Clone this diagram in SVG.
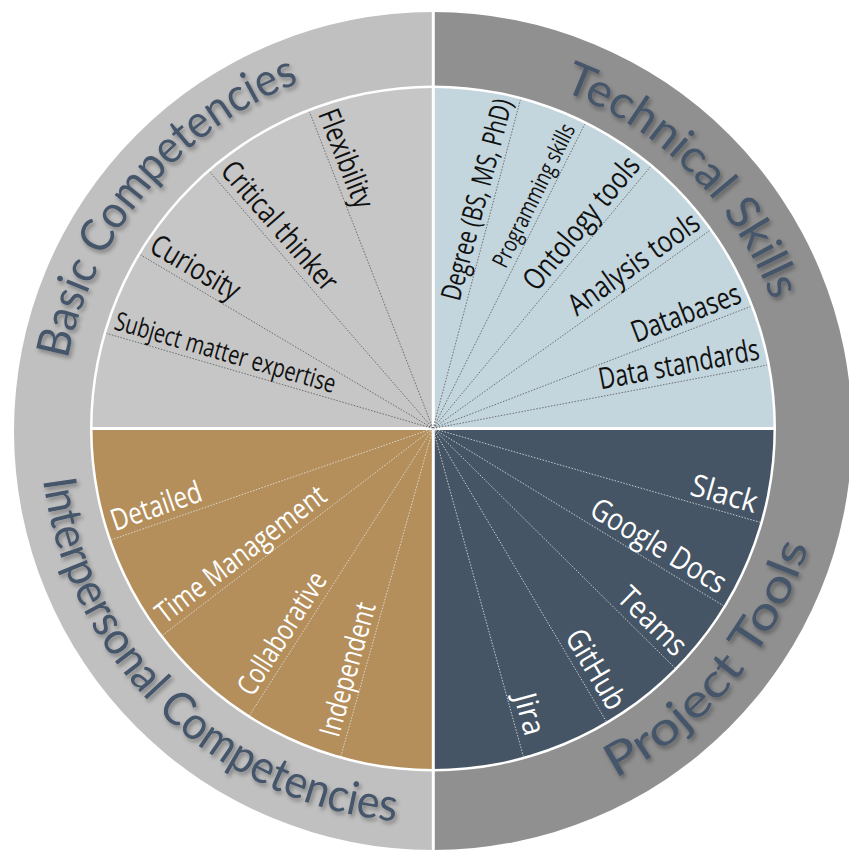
<svg xmlns="http://www.w3.org/2000/svg" width="849" height="850" viewBox="0 0 849 850">
<defs>
<filter id="sh" x="-10%" y="-10%" width="120%" height="120%">
<feDropShadow dx="2" dy="3" stdDeviation="2" flood-color="#000" flood-opacity="0.35"/>
</filter>
<path id="pBasic" d="M61,430 A372,372 0 0 1 433,58"/>
<path id="pTech" d="M433,67 A363,363 0 0 1 796,430"/>
<path id="pInter" d="M40,430 A393,393 0 0 0 433,823"/>
<path id="pProj" d="M433,823 A393,393 0 0 0 826,430"/>
</defs>
<style>
.title{font-family:Lato,"Open Sans",sans-serif;font-size:46px;fill:#44546a;filter:url(#sh)}
.lbl{font-family:"Open Sans","Noto Sans",sans-serif;font-size:30px;fill:#111}
.w{fill:#fff}
.sd{stroke:#555;stroke-width:0.8;stroke-dasharray:1.5 1.5;fill:none}
.sl{stroke:#e8e8e8;stroke-width:0.8;stroke-dasharray:1.5 1.5;fill:none}
</style>
<rect width="849" height="850" fill="#fff"/>
<g id="ring">
<path d="M433,12 A419,419 0 0 0 433,850 Z" fill="#c0c0c0"/>
<path d="M433,12 A419,419 0 0 1 433,850 Z" fill="#909090"/>
<line x1="433.3" y1="0" x2="433.3" y2="850" stroke="#fff" stroke-width="3"/>
<circle cx="433" cy="428.5" r="343" fill="#fff"/>
</g>
<g id="quad-basic"><path d="M433,428.5 L92.5,428.5 A340.5,340.5 0 0 1 433,88 Z" fill="#c6c6c6"/></g>
<g id="quad-tech"><path d="M433,428.5 L433,88 A340.5,340.5 0 0 1 773.5,428.5 Z" fill="#c3d5dd"/></g>
<g id="quad-proj"><path d="M433,428.5 L773.5,428.5 A340.5,340.5 0 0 1 433,769 Z" fill="#455565"/></g>
<g id="quad-inter"><path d="M433,428.5 L433,769 A340.5,340.5 0 0 1 92.5,428.5 Z" fill="#b48f5b"/></g>
<g id="gaps" stroke="#fff" stroke-width="3">
<line x1="433.3" y1="86" x2="433.3" y2="771"/>
<line x1="90" y1="428.5" x2="776" y2="428.5"/>
</g>
<g id="connectors">
<path class="sd" d="M433,428.5L106.6,333.4M433,428.5L140.6,254.9M433,428.5L209.9,171.9M433,428.5L309.5,111.7"/>
<path class="sd" d="M433,428.5L520.4,99.9M433,428.5L584.7,124.2M433,428.5L650.2,166.9M433,428.5L709.5,230.6M433,428.5L750.4,306.6M433,428.5L767,365.1"/>
<path class="sl" d="M433,428.5L111.7,539.7M433,428.5L162.9,635M433,428.5L249.8,714.9M433,428.5L341,755.8"/>
<path class="sl" d="M433,428.5L759.8,522.2M433,428.5L723.2,605.6M433,428.5L674.7,667.7M433,428.5L606.1,721.1M433,428.5L523.3,756.3"/>
</g>
<g id="titles">
<text class="title"><textPath href="#pBasic" startOffset="44.4%" text-anchor="middle" textLength="376" lengthAdjust="spacingAndGlyphs">Basic Competencies</textPath></text>
<text class="title"><textPath href="#pTech" startOffset="50%" text-anchor="middle" textLength="306" lengthAdjust="spacingAndGlyphs">Technical Skills</textPath></text>
<text class="title"><textPath href="#pInter" startOffset="51%" text-anchor="middle" textLength="530" lengthAdjust="spacingAndGlyphs">Interpersonal Competencies</textPath></text>
<text class="title"><textPath href="#pProj" startOffset="55.8%" text-anchor="middle" textLength="310" lengthAdjust="spacingAndGlyphs">Project Tools</textPath></text>
</g>
<g id="n-flexibility" transform="translate(433 428.5) rotate(68.7)"><text class="lbl" x="-335" y="-7" textLength="104" lengthAdjust="spacingAndGlyphs">Flexibility</text></g>
<g id="n-critical" transform="translate(433 428.5) rotate(49)"><text class="lbl" x="-334" y="-7" textLength="161" lengthAdjust="spacingAndGlyphs">Critical thinker</text></g>
<g id="n-curiosity" transform="translate(433 428.5) rotate(30.7)"><text class="lbl" x="-336" y="-7" textLength="99" lengthAdjust="spacingAndGlyphs">Curiosity</text></g>
<g id="n-sme" transform="translate(433 428.5) rotate(16.25)"><text class="lbl" x="-335" y="-6" style="font-size:26px" textLength="229" lengthAdjust="spacingAndGlyphs">Subject matter expertise</text></g>
<g id="n-degree" transform="translate(433 428.5) rotate(-75.1)"><text class="lbl" x="336" y="-7" text-anchor="end" style="font-size:28px" textLength="207" lengthAdjust="spacingAndGlyphs">Degree (BS, MS, PhD)</text></g>
<g id="n-programming" transform="translate(433 428.5) rotate(-63.5)"><text class="lbl" x="332" y="-6" text-anchor="end" style="font-size:23px" textLength="157" lengthAdjust="spacingAndGlyphs">Programming skills</text></g>
<g id="n-ontology" transform="translate(433 428.5) rotate(-50.3)"><text class="lbl" x="335" y="-7" text-anchor="end" textLength="164" lengthAdjust="spacingAndGlyphs">Ontology tools</text></g>
<g id="n-analysis" transform="translate(433 428.5) rotate(-35.6)"><text class="lbl" x="336" y="-7" text-anchor="end" textLength="154" lengthAdjust="spacingAndGlyphs">Analysis tools</text></g>
<g id="n-databases" transform="translate(433 428.5) rotate(-21)"><text class="lbl" x="335" y="-7" text-anchor="end" textLength="115" lengthAdjust="spacingAndGlyphs">Databases</text></g>
<g id="n-datastandards" transform="translate(433 428.5) rotate(-10.75)"><text class="lbl" x="335" y="-7" text-anchor="end" textLength="163" lengthAdjust="spacingAndGlyphs">Data standards</text></g>
<g id="n-detailed" transform="translate(433 428.5) rotate(-19.1)"><text class="lbl w" x="-334" y="-7" textLength="94" lengthAdjust="spacingAndGlyphs">Detailed</text></g>
<g id="n-time" transform="translate(433 428.5) rotate(-37.4)"><text class="lbl w" x="-332" y="-7" style="font-size:29px" textLength="206" lengthAdjust="spacingAndGlyphs">Time Management</text></g>
<g id="n-collab" transform="translate(433 428.5) rotate(-57.4)"><text class="lbl w" x="-324" y="-7" style="font-size:29px" textLength="140" lengthAdjust="spacingAndGlyphs">Collaborative</text></g>
<g id="n-independent" transform="translate(433 428.5) rotate(-74.3)"><text class="lbl w" x="-324" y="-7" style="font-size:29px" textLength="138" lengthAdjust="spacingAndGlyphs">Independent</text></g>
<g id="n-slack" transform="translate(433 428.5) rotate(16)"><text class="lbl w" x="332" y="-7" text-anchor="end" style="font-size:31px" textLength="68" lengthAdjust="spacingAndGlyphs">Slack</text></g>
<g id="n-gdocs" transform="translate(433 428.5) rotate(31.4)"><text class="lbl w" x="330" y="-7" text-anchor="end" style="font-size:31px" textLength="153" lengthAdjust="spacingAndGlyphs">Google Docs</text></g>
<g id="n-teams" transform="translate(433 428.5) rotate(44.7)"><text class="lbl w" x="333" y="-7" text-anchor="end" style="font-size:31px" textLength="83" lengthAdjust="spacingAndGlyphs">Teams</text></g>
<g id="n-github" transform="translate(433 428.5) rotate(59.4)"><text class="lbl w" x="334" y="-7" text-anchor="end" style="font-size:31px" textLength="88" lengthAdjust="spacingAndGlyphs">GitHub</text></g>
<g id="n-jira" transform="translate(433 428.5) rotate(74.6)"><text class="lbl w" x="322" y="-7" text-anchor="end" style="font-size:31px" textLength="42" lengthAdjust="spacingAndGlyphs">Jira</text></g>
</svg>
